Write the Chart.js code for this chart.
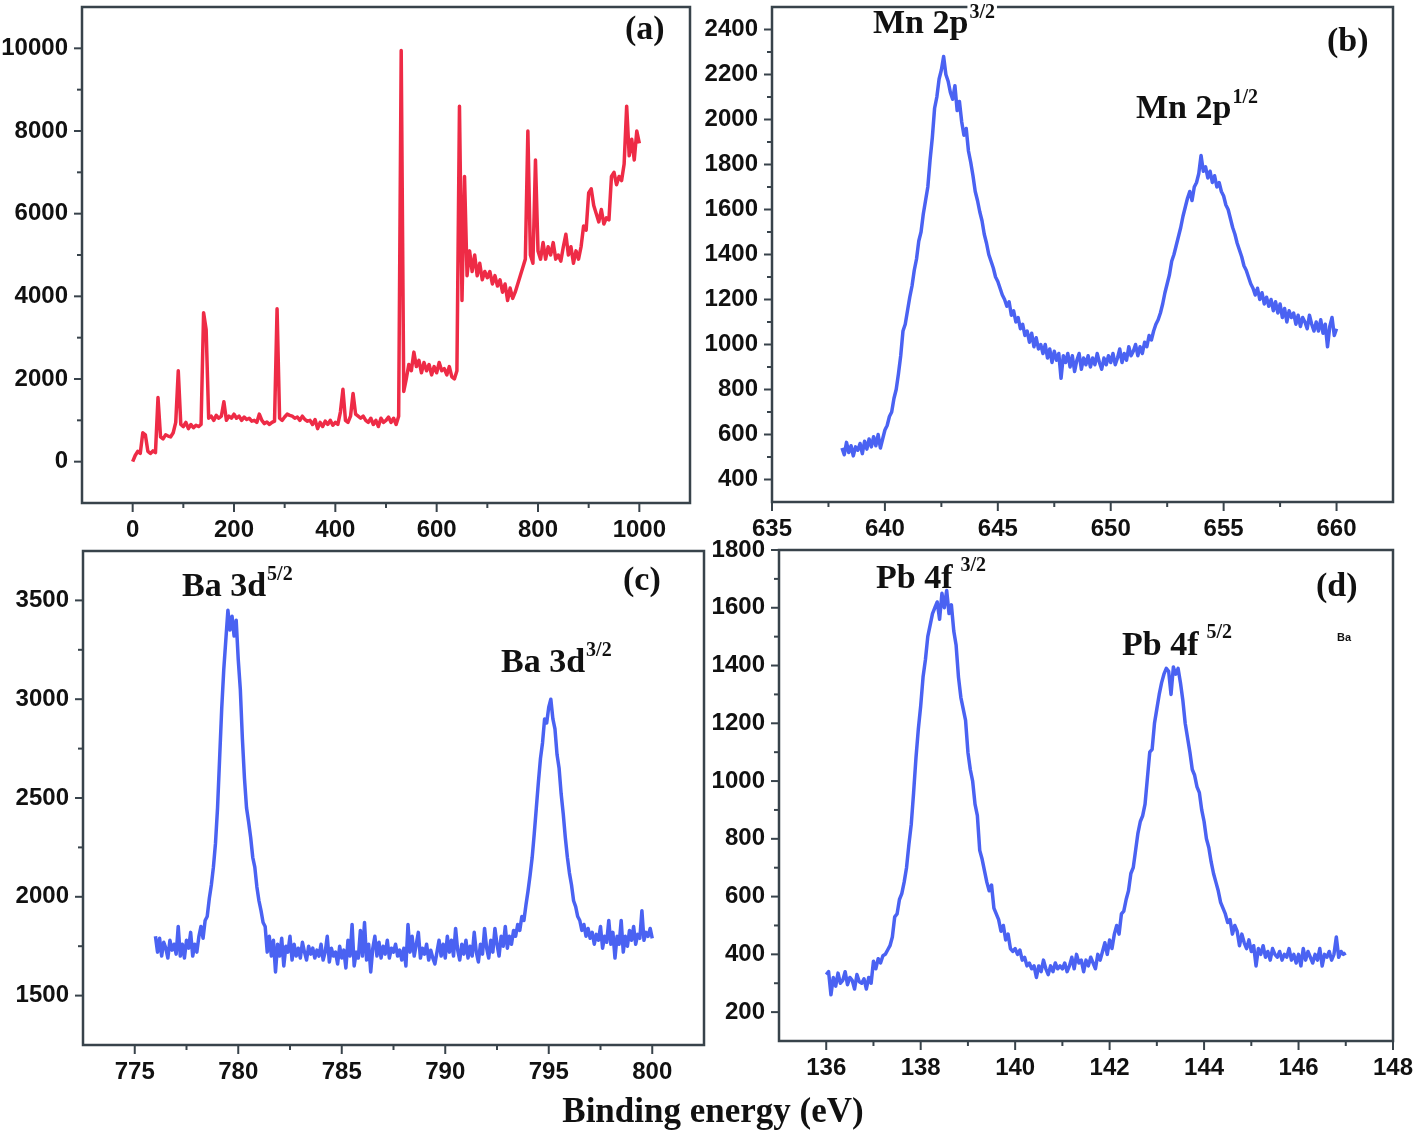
<!DOCTYPE html>
<html>
<head>
<meta charset="utf-8">
<script src="https://cdn.jsdelivr.net/npm/chart.js@4.4.1/dist/chart.umd.min.js"></script>
<style>
  html, body { margin: 0; padding: 0; background: #fff; }
  body { width: 1417px; height: 1138px; position: relative; overflow: hidden; }
  .panel { position: absolute; }
  .panel canvas { display: block; }
  #xTitle {
    position: absolute; left: 0; width: 1426px; top: 1093px;
    text-align: center; font: bold 35px 'Liberation Serif', 'DejaVu Serif', serif;
    line-height: 35px; color: #111;
  }
</style>
</head>
<body>
<div class="panel" style="left:0px;top:0px"><canvas id="chartA" width="700" height="560"></canvas></div>
<div class="panel" style="left:700px;top:0px"><canvas id="chartB" width="717" height="560"></canvas></div>
<div class="panel" style="left:0px;top:525px"><canvas id="chartC" width="706" height="560"></canvas></div>
<div class="panel" style="left:706px;top:525px"><canvas id="chartD" width="711" height="560"></canvas></div>
<div id="xTitle">Binding energy (eV)</div>

<script>
// (a) survey spectrum, 0..1000 eV every 5 eV
var surveyStart = 0, surveyStep = 5;
var surveyCounts = [
  0, 150, 250, 200, 700, 650, 250, 200, 260, 220, 1550, 600, 550, 650, 620, 600, 700, 950, 2200, 900,
  850, 950, 800, 900, 820, 880, 850, 900, 3600, 3200, 1050, 1100, 1000, 1120, 1050, 1100, 1450, 1000, 1100, 1050,
  1150, 1050, 1100, 1000, 1080, 1020, 1050, 980, 1000, 950, 1150, 1000, 920, 960, 900, 950, 980, 3700, 1050, 1000,
  1080, 1150, 1120, 1100, 1050, 1080, 1000, 1100, 1020, 980, 1000, 900, 1020, 800, 950, 850, 980, 900, 1000, 880,
  950, 900, 1200, 1750, 1000, 950, 1100, 1650, 1150, 1100, 1050, 1100, 1000, 950, 1050, 900, 1000, 850, 1050, 950,
  1000, 1080, 950, 1050, 900, 1100, 9950, 1700, 2000, 2350, 2200, 2650, 2300, 2450, 2150, 2400, 2200, 2350, 2100, 2300,
  2150, 2400, 2200, 2250, 2100, 2300, 2050, 2000, 2200, 8600, 3900, 6900, 4500, 5100, 4600, 5000, 4500, 4800, 4400, 4600,
  4450, 4600, 4300, 4500, 4250, 4400, 4100, 4300, 3900, 4200, 3950, 4100, 4300, 4500, 4700, 4900, 8000, 5000, 4800, 7300,
  5100, 4900, 5300, 4900, 5200, 5000, 5300, 4900, 5000, 4850, 5200, 5500, 5000, 5200, 4800, 5100, 4900, 5200, 5700, 5600,
  6500, 6600, 6200, 6000, 5800, 6100, 5750, 5900, 5850, 6900, 7000, 6700, 6900, 6800, 7200, 8600, 7400, 7800, 7300, 8000,
  7700
];
var aXTicks = [0, 200, 400, 600, 800, 1000];
var aXMinor = [100, 300, 500, 700, 900];
var aYTicks = [0, 2000, 4000, 6000, 8000, 10000];
var aYMinor = [1000, 3000, 5000, 7000, 9000];

// (b) Mn 2p, 638.1..660.0 eV every 0.1 eV
var mnStart = 638.1, mnStep = 0.1;
var mnCounts = [
  540, 510, 565, 520, 550, 505, 545, 530, 560, 515,
  570, 535, 580, 545, 590, 550, 600, 540, 580, 620,
  640, 680, 700, 760, 800, 870, 950, 1060, 1090, 1150,
  1210, 1260, 1330, 1380, 1460, 1500, 1580, 1640, 1700, 1820,
  1920, 2050, 2100, 2180, 2220, 2280, 2200, 2170, 2120, 2090,
  2150, 2040, 2080, 1990, 1930, 1960, 1860, 1810, 1750, 1680,
  1640, 1590, 1550, 1490, 1450, 1400, 1370, 1340, 1300, 1280,
  1250, 1220, 1200, 1170, 1190, 1130, 1150, 1100, 1120, 1070,
  1090, 1040, 1060, 1010, 1050, 990, 1030, 980, 1000, 960,
  1000, 940, 980, 920, 970, 930, 960, 850, 950, 920,
  960, 900, 950, 880, 930, 960, 890, 940, 910, 950,
  900, 940, 910, 960, 920, 890, 940, 910, 950, 920,
  960, 910, 940, 980, 920, 960, 930, 990, 950, 970,
  1000, 950, 990, 960, 1010, 990, 1040, 1020, 1060, 1090,
  1110, 1140, 1180, 1230, 1270, 1310, 1370, 1400, 1440, 1480,
  1520, 1570, 1610, 1650, 1680, 1640, 1700, 1720, 1760, 1840,
  1770, 1790, 1740, 1770, 1720, 1750, 1700, 1720, 1680, 1660,
  1620, 1600, 1560, 1520, 1490, 1450, 1420, 1390, 1350, 1330,
  1300, 1270, 1250, 1220, 1250, 1200, 1230, 1180, 1210, 1170,
  1200, 1150, 1190, 1140, 1180, 1120, 1160, 1100, 1150, 1120,
  1140, 1090, 1130, 1080, 1120, 1100, 1070, 1130, 1090, 1060,
  1100, 1060, 1110, 1050, 1090, 990, 1080, 1120, 1040, 1070
];
var bXTicks = [635, 640, 645, 650, 655, 660];
var bXMinor = [637.5, 642.5, 647.5, 652.5, 657.5];
var bYTicks = [400, 600, 800, 1000, 1200, 1400, 1600, 1800, 2000, 2200, 2400];
var bYMinor = [500, 700, 900, 1100, 1300, 1500, 1700, 1900, 2100, 2300];

// (c) Ba 3d, 776.0..800.0 eV every 0.1 eV
var baStart = 776.0, baStep = 0.1;
var baCounts = [
  1800, 1720, 1790, 1700, 1770, 1740, 1690, 1780, 1730, 1760,
  1710, 1850, 1700, 1760, 1690, 1780, 1740, 1820, 1700, 1760,
  1720, 1800, 1850, 1790, 1880, 1900, 1990, 2060, 2150, 2270,
  2450, 2700, 2950, 3150, 3300, 3450, 3350, 3420, 3320, 3400,
  3200, 3050, 2800, 2600, 2450, 2380, 2300, 2200, 2150, 2050,
  1980, 1930, 1870, 1850, 1720, 1800, 1700, 1780, 1620, 1760,
  1700, 1790, 1650, 1750, 1720, 1800, 1680, 1760, 1700, 1740,
  1690, 1770, 1720, 1680, 1750, 1710, 1740, 1690, 1730, 1700,
  1760, 1680, 1720, 1800, 1670, 1740, 1700, 1720, 1660, 1750,
  1690, 1730, 1640, 1780, 1700, 1860, 1650, 1720, 1690, 1830,
  1700, 1870, 1680, 1760, 1620, 1740, 1800, 1700, 1770, 1690,
  1750, 1710, 1780, 1690, 1740, 1720, 1760, 1700, 1730, 1680,
  1740, 1650, 1860, 1720, 1800, 1700, 1760, 1820, 1690, 1740,
  1710, 1760, 1680, 1730, 1690, 1660, 1720, 1780, 1700, 1760,
  1690, 1800, 1720, 1780, 1700, 1840, 1730, 1680, 1760, 1710,
  1780, 1690, 1750, 1700, 1820, 1720, 1670, 1760, 1710, 1840,
  1740, 1690, 1780, 1720, 1840, 1760, 1700, 1800, 1750, 1850,
  1740, 1800, 1760, 1830, 1800, 1860, 1830, 1900, 1880, 1960,
  2030, 2110, 2200, 2320, 2450, 2580, 2700, 2780, 2900, 2880,
  2960, 3000, 2900, 2850, 2720, 2650, 2520, 2420, 2300, 2200,
  2120, 2060, 1980, 1950, 1900, 1880, 1830, 1860, 1800, 1840,
  1790, 1820, 1760, 1810, 1780, 1850, 1740, 1800, 1770, 1880,
  1760, 1820, 1690, 1800, 1760, 1880, 1720, 1800, 1750, 1830,
  1780, 1850, 1760, 1810, 1790, 1930, 1780, 1820, 1800, 1840,
  1790
];
var cXTicks = [775, 780, 785, 790, 795, 800];
var cXMinor = [777.5, 782.5, 787.5, 792.5, 797.5];
var cYTicks = [1500, 2000, 2500, 3000, 3500];
var cYMinor = [1750, 2250, 2750, 3250];

// (d) Pb 4f, 136.00..147.00 eV every 0.05 eV
var pbStart = 136.0, pbStep = 0.05;
var pbCounts = [
  330, 340, 260, 320, 290, 335, 300, 310, 340, 295, 320, 310, 280, 330, 305, 300, 315, 280, 320, 300,
  376, 350, 385, 370, 395, 400, 415, 430, 460, 530, 540, 590, 610, 650, 700, 780, 850, 960, 1080, 1180,
  1260, 1360, 1420, 1500, 1540, 1580, 1600, 1620, 1560, 1650, 1600, 1660, 1580, 1610, 1520, 1470, 1360, 1290, 1250, 1210,
  1100, 1040, 1000, 920, 880, 760, 730, 690, 650, 620, 640, 560, 540, 520, 480, 500, 450, 470, 420, 410,
  420, 400, 415, 380, 390, 360, 370, 350, 360, 320, 360, 340, 380, 350, 330, 360, 340, 370, 350, 360,
  350, 370, 340, 360, 390, 350, 400, 370, 380, 340, 380, 360, 390, 370, 350, 400, 380, 410, 440, 400,
  450, 420, 470, 500, 470, 540, 550, 590, 620, 680, 700, 760, 820, 860, 880, 920, 1010, 1100, 1110, 1200,
  1250, 1300, 1340, 1370, 1390, 1380, 1300, 1395, 1370, 1390, 1340, 1280, 1200, 1150, 1100, 1040, 1020, 980, 960, 900,
  860, 800, 770, 720, 680, 650, 620, 580, 560, 540, 510, 520, 470, 500, 480, 430, 470, 440, 420, 450,
  410, 430, 360, 420, 400, 430, 390, 410, 380, 420, 400, 390, 410, 380, 400, 390, 420, 380, 400, 370,
  400, 360, 420, 380, 410, 390, 370, 400, 380, 420, 360, 400, 390, 410, 380, 400, 460, 390, 410, 400,
  405
];
var dXTicks = [136, 138, 140, 142, 144, 146, 148];
var dXMinor = [137, 139, 141, 143, 145, 147];
var dYTicks = [200, 400, 600, 800, 1000, 1200, 1400, 1600, 1800];
var dYMinor = [300, 500, 700, 900, 1100, 1300, 1500, 1700];

function toPoints(start, step, counts) {
    return counts.map(function (c, i) {
        return { x: +(start + i * step).toFixed(3), y: c };
    });
}

var serif = "'Liberation Serif', 'DejaVu Serif', serif";
var sans = "'Liberation Sans', Arial, sans-serif";

// extra drawing info for each canvas (page offset, minor ticks, labels)
var extras = {
    chartA: {
        left: 0, top: 0,
        xMajor: aXTicks, xMinor: aXMinor, yMajor: aYTicks, yMinor: aYMinor,
        texts: [
            { text: '(a)', x: 625, y: 39, size: 34 }
        ]
    },
    chartB: {
        left: 700, top: 0,
        xMajor: bXTicks, xMinor: bXMinor, yMajor: bYTicks, yMinor: bYMinor,
        texts: [
            { text: '(b)', x: 1327, y: 51, size: 34 },
            { text: 'Mn 2p', x: 873, y: 33, size: 34, sup: '3/2', supSize: 20, raise: 15, bg: true },
            { text: 'Mn 2p', x: 1136, y: 118, size: 34, sup: '1/2', supSize: 20, raise: 15 }
        ]
    },
    chartC: {
        left: 0, top: 525,
        xMajor: cXTicks, xMinor: cXMinor, yMajor: cYTicks, yMinor: cYMinor,
        texts: [
            { text: '(c)', x: 623, y: 590, size: 34 },
            { text: 'Ba 3d', x: 182, y: 596, size: 34, sup: '5/2', supSize: 20, raise: 16 },
            { text: 'Ba 3d', x: 501, y: 672, size: 34, sup: '3/2', supSize: 20, raise: 16 }
        ]
    },
    chartD: {
        left: 706, top: 525,
        xMajor: dXTicks, xMinor: dXMinor, yMajor: dYTicks, yMinor: dYMinor,
        texts: [
            { text: '(d)', x: 1316, y: 596, size: 34 },
            { text: 'Pb 4f', x: 876, y: 588, size: 34, sup: '3/2', supSize: 20, raise: 17, gap: 8 },
            { text: 'Pb 4f', x: 1122, y: 655, size: 34, sup: '5/2', supSize: 20, raise: 17, gap: 8 },
            { text: 'Ba', x: 1337, y: 641, size: 11, family: sans }
        ]
    }
};

// frame + outward major/minor ticks, then the text labels
var frameTicks = {
    id: 'frameTicks',
    afterDraw: function (chart) {
        var ex = extras[chart.canvas.id];
        var ctx = chart.ctx, a = chart.chartArea;
        var xs = chart.scales.x, ys = chart.scales.y;
        ctx.save();
        ctx.strokeStyle = '#38434b';
        ctx.lineWidth = 2.5;
        ctx.strokeRect(a.left, a.top, a.right - a.left, a.bottom - a.top);
        ctx.lineWidth = 2;
        function tick(x1, y1, x2, y2) {
            ctx.beginPath(); ctx.moveTo(x1, y1); ctx.lineTo(x2, y2); ctx.stroke();
        }
        ex.xMajor.forEach(function (v) { var p = xs.getPixelForValue(v); tick(p, a.bottom, p, a.bottom + 9); });
        ex.xMinor.forEach(function (v) { var p = xs.getPixelForValue(v); tick(p, a.bottom, p, a.bottom + 5); });
        ex.yMajor.forEach(function (v) { var p = ys.getPixelForValue(v); tick(a.left, p, a.left - 8, p); });
        ex.yMinor.forEach(function (v) { var p = ys.getPixelForValue(v); tick(a.left, p, a.left - 5, p); });

        ctx.fillStyle = '#111';
        ctx.textBaseline = 'alphabetic';
        ctx.textAlign = 'left';
        ex.texts.forEach(function (t) {
            var x = t.x - ex.left, y = t.y - ex.top;
            ctx.font = 'bold ' + t.size + 'px ' + (t.family || serif);
            ctx.fillText(t.text, x, y);
            if (t.sup) {
                var sx = x + ctx.measureText(t.text).width + (t.gap || 1);
                ctx.font = 'bold ' + t.supSize + 'px ' + serif;
                var w = ctx.measureText(t.sup).width;
                if (t.bg) {
                    ctx.fillStyle = '#fff';
                    ctx.fillRect(sx - 2, y - t.raise - t.supSize * 0.8, w + 4, t.supSize * 0.9);
                    ctx.fillStyle = '#111';
                }
                ctx.fillText(t.sup, sx, y - t.raise);
            }
        });
        ctx.restore();
    }
};

function makeChart(id, points, color, xMin, xMax, xTicks, yMin, yMax, yTicks, pad, yWidth, xHeight) {
    return new Chart(document.getElementById(id), {
        type: 'line',
        data: {
            datasets: [{
                data: points,
                borderColor: color,
                borderWidth: 3.5,
                borderJoinStyle: 'round',
                pointRadius: 0,
                tension: 0,
                fill: false
            }]
        },
        options: {
            responsive: false,
            animation: false,
            layout: { padding: { left: 0, bottom: 0, top: pad.top, right: pad.right } },
            plugins: {
                legend: { display: false },
                tooltip: { enabled: false }
            },
            scales: {
                x: {
                    type: 'linear',
                    min: xMin,
                    max: xMax,
                    grid: { display: false, drawTicks: false },
                    border: { display: false },
                    afterBuildTicks: function (scale) {
                        scale.ticks = xTicks.map(function (v) { return { value: v }; });
                    },
                    afterFit: function (scale) {
                        scale.height = xHeight;
                        scale.paddingLeft = 0;
                        scale.paddingRight = 0;
                    },
                    ticks: {
                        padding: 13,
                        maxRotation: 0,
                        autoSkip: false,
                        color: '#111',
                        font: { family: sans, size: 24, weight: 'bold' },
                        callback: function (v) { return String(v); }
                    }
                },
                y: {
                    min: yMin,
                    max: yMax,
                    grid: { display: false, drawTicks: false },
                    border: { display: false },
                    afterBuildTicks: function (scale) {
                        scale.ticks = yTicks.map(function (v) { return { value: v }; });
                    },
                    afterFit: function (scale) {
                        scale.width = yWidth;
                        scale.paddingTop = 0;
                        scale.paddingBottom = 0;
                    },
                    ticks: {
                        padding: 14,
                        autoSkip: false,
                        color: '#111',
                        font: { family: sans, size: 24, weight: 'bold' },
                        callback: function (v) { return String(v); }
                    }
                }
            }
        },
        plugins: [frameTicks]
    });
}

var red = '#ee2b46';
var blue = '#4a62f2';

var chartA = makeChart('chartA', toPoints(surveyStart, surveyStep, surveyCounts), red,
    -100, 1100, aXTicks, -1000, 11000, aYTicks, { top: 7, right: 10 }, 82, 57);
var chartB = makeChart('chartB', toPoints(mnStart, mnStep, mnCounts), blue,
    635, 662.5, bXTicks, 300, 2500, bYTicks, { top: 7, right: 24 }, 72, 58);
var chartC = makeChart('chartC', toPoints(baStart, baStep, baCounts), blue,
    772.5, 802.5, cXTicks, 1250, 3750, cYTicks, { top: 26, right: 2 }, 83, 40);
var chartD = makeChart('chartD', toPoints(pbStart, pbStep, pbCounts), blue,
    135, 148, dXTicks, 100, 1800, dYTicks, { top: 25, right: 24 }, 73, 44);
</script>
</body>
</html>
